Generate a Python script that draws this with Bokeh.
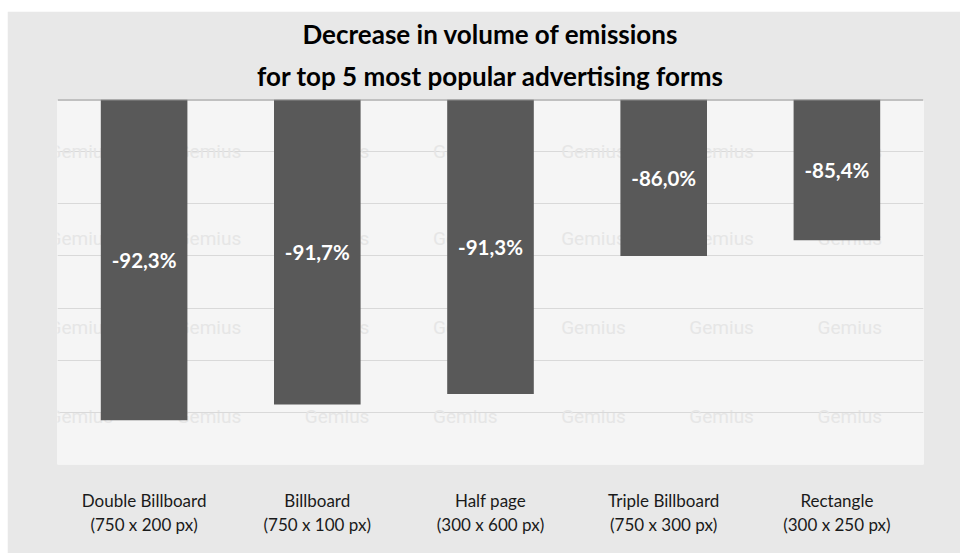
from bokeh.plotting import figure
from bokeh.models import Range1d, FactorRange, FixedTicker, Title, Span, Spacer, ColumnDataSource
from bokeh.layouts import column, row
from bokeh.core.properties import value
from bokeh.embed import file_html
from bokeh.resources import INLINE

# Ad formats and their decrease in emission volume (%)
forms = ["Double Billboard", "Billboard", "Half page", "Triple Billboard", "Rectangle"]
sizes = ["(750 x 200 px)", "(750 x 100 px)", "(300 x 600 px)", "(750 x 300 px)", "(300 x 250 px)"]
decrease = [-92.3, -91.7, -91.3, -86.0, -85.4]

title_lines = ["Decrease in volume of emissions",
               "for top 5 most popular advertising forms"]

# value axis: bars hang from the top of the scale
axis_top = -80
axis_bottom = -94
grid_step = 2

FONT = "Lato"
categories = [f"{f}\n{s}" for f, s in zip(forms, sizes)]

p = figure(
    x_range=FactorRange(*categories, range_padding=0),
    y_range=Range1d(axis_bottom, axis_top),
    width=953, height=542,
    output_backend="svg", toolbar_location=None,
    min_border_left=50, min_border_right=37,
    min_border_top=88, min_border_bottom=89,
    background_fill_color="#f5f5f5",
    border_fill_color="#e8e8e8",
    outline_line_color=None,
)
p.title = None
# titles in "above" stack outward from the plot: second line goes first
for line, gap in zip(reversed(title_lines), [16, 0]):
    p.add_layout(Title(
        text=line, align="center", text_font=FONT, text_font_style="bold",
        text_font_size="26px", text_color="#000000", standoff=gap,
    ), "above")

# faint repeating brand watermark in the plot background
wm_cols = [-0.052, 0.688, 1.428, 2.168, 2.908, 3.648, 4.388]
wm_rows = [-82.0, -85.35, -88.75, -92.15]
wm_x = [c for r in wm_rows for c in wm_cols]
wm_y = [r for r in wm_rows for c in wm_cols]
p.text(x=wm_x, y=wm_y, text=["Gemius"] * len(wm_x),
       text_font=value("Roboto"), text_font_size="19px",
       text_color="#e6e6e6", text_baseline="middle", text_align="left")

src = ColumnDataSource(dict(
    cat=categories,
    val=decrease,
    top=[axis_top] * len(decrease),
    mid=[(axis_top + v) / 2 for v in decrease],
    label=[f"{v:.1f}%".replace(".", ",") for v in decrease],
))

p.vbar(x="cat", top="top", bottom="val", width=0.5, source=src,
       fill_color="#595959", line_color=None)

p.text(x="cat", y="mid", text="label", source=src,
       text_font=value(FONT), text_font_style="bold", text_font_size="20.5px",
       text_color="#ffffff", text_align="center", text_baseline="middle")

# top axis line
p.add_layout(Span(location=axis_top, dimension="width",
                  line_color="#8c8c8c", line_width=2))

p.yaxis.visible = False
p.xgrid.grid_line_color = None
p.ygrid.ticker = FixedTicker(ticks=list(range(axis_bottom, axis_top, grid_step)))
p.ygrid.grid_line_color = "#d9d9d9"
p.ygrid.grid_line_width = 1

xa = p.xaxis[0]
xa.axis_line_color = None
xa.major_tick_line_color = None
xa.minor_tick_line_color = None
xa.major_tick_out = 0
xa.major_tick_in = 0
xa.major_label_standoff = 25
xa.major_label_text_font = FONT
xa.major_label_text_font_size = "17px"
xa.major_label_text_color = "#1a1a1a"
xa.major_label_text_line_height = 1.15

layout = column(Spacer(height=11), row(Spacer(width=7), p))

open("out.html", "w").write(file_html(layout, INLINE))
